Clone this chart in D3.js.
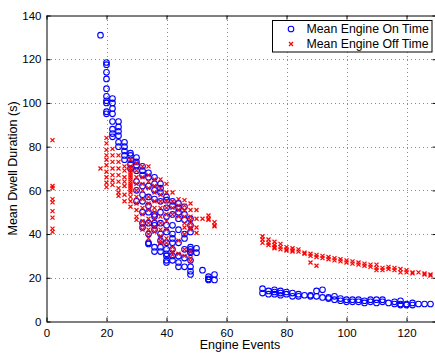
<!DOCTYPE html>
<html>
<head>
<meta charset="utf-8">
<script src="https://cdn.jsdelivr.net/npm/d3@7"></script>
<style>
  html, body { margin: 0; padding: 0; background: #fff; }
  svg { display: block; font-family: "Liberation Sans", Arial, Helvetica, sans-serif; }
</style>
</head>
<body>
<svg id="chart" width="435" height="356"></svg>
<script>
// ---- DATA ----
const xTicks = [0, 20, 40, 60, 80, 100, 120];
const yTicks = [0, 20, 40, 60, 80, 100, 120, 140];
const seriesNames = ["Mean Engine On Time", "Mean Engine Off Time"];

// Mean Engine On Time: engine events and the dwell values observed at each
const onEvents = [18, 20, 22, 24, 26, 28, 30, 32, 34, 36, 38, 40, 42, 44, 46, 48, 50, 52, 54, 56,
  72, 74, 76, 78, 80, 82, 84, 86, 88, 90, 92, 94, 96, 98, 100, 102, 104, 106, 108, 110, 112, 114, 116, 118, 120, 122, 124, 126, 128];
const onValues = [
  [131],
  [118.5, 117.5, 114, 111, 106.5, 103, 101, 100, 96, 95],
  [102, 100, 97.5, 95, 91.5, 88, 86, 84.5],
  [91.5, 89, 87, 85, 82, 80],
  [82, 80, 78, 76, 74],
  [77, 76, 74, 72, 70],
  [75, 73, 71.5, 69, 64, 60, 55],
  [71, 69, 67, 62, 58, 55, 50, 45, 43],
  [68, 66, 62, 57, 53, 50, 45, 40, 36, 35.5],
  [66, 63, 60, 56, 49, 48, 45, 44, 42, 34, 32],
  [63, 61, 59, 55, 50, 45, 40, 37, 34, 32],
  [57, 55.5, 52, 48, 44, 41, 36, 33, 31, 30, 28, 27],
  [55, 53, 49, 44, 40, 38, 36, 33, 30, 28],
  [54, 52, 50, 47, 42, 36, 30, 27, 25],
  [52.5, 49, 46.5, 40, 38, 33, 29, 25],
  [47, 44, 41, 34, 33, 32, 31.5, 28, 25, 23, 21.5],
  [33.5, 31.5],
  [23.5],
  [20.5, 19.5, 19],
  [21.5, 19],
  [15, 13],
  [14, 12.5],
  [14.5, 13.5, 12.5],
  [14, 13, 12],
  [13.5, 12.5],
  [13, 11.5],
  [12.5, 11.5],
  [12],
  [12, 11.5],
  [14, 11.5],
  [14.5, 11],
  [11, 10.5],
  [11.5, 10],
  [10.5, 9.5],
  [10, 9],
  [10, 9],
  [10, 9],
  [9.5, 8.5],
  [10, 9],
  [10, 8.5],
  [10, 9],
  [8.5],
  [9, 8],
  [9.5, 8, 7.5],
  [8, 7.5],
  [8.5, 7.5],
  [8],
  [8],
  [8]
];

// Mean Engine Off Time
const offEvents = [2, 18, 20, 22, 24, 26, 28, 30, 32, 34, 36, 38, 40, 42, 44, 46, 48, 50, 52, 54, 56,
  72, 74, 76, 78, 80, 82, 84, 86, 88, 90, 92, 94, 96, 98, 100, 102, 104, 106, 108, 110, 112, 114, 116, 118, 120, 122, 124, 126, 128];
const offValues = [
  [83, 62, 61, 56, 54.5, 50.5, 47.5, 42.5, 41],
  [70],
  [84, 81.5, 78.5, 76, 74, 71.5, 68.5, 66, 63.5, 61.5],
  [79, 76, 73, 70, 67, 64.5, 62.5],
  [76, 73, 70, 67, 64, 61, 59, 57.5],
  [71, 69, 66, 64, 62, 58, 55],
  [74, 71, 70, 69, 68, 67, 66, 65, 64, 63, 62, 61, 60, 59, 57, 55, 52.5],
  [72.5, 69, 66, 63, 60, 57, 54, 51, 48, 46.5],
  [71, 66, 63, 60, 56, 52, 49, 46, 44, 42],
  [71, 67, 64, 61, 57, 54, 51, 47, 45, 42, 40, 38],
  [65, 62, 59, 55, 52, 50, 47, 43, 41],
  [65, 61, 58, 55, 52, 48, 45, 42, 39, 37, 36],
  [63, 59, 55, 52, 49, 46, 42, 38, 36],
  [59, 55, 52, 49, 34, 32, 30.5],
  [56, 53, 51, 48, 37, 31],
  [55.5, 53, 51, 48, 45, 43, 40, 33, 30],
  [54, 51, 48, 46.5, 45, 43, 42, 32, 29, 27.5],
  [51, 47, 43, 40.5],
  [47],
  [48.5, 47, 46.5],
  [45.5, 44, 43.5],
  [39, 37.5, 36],
  [37.5, 36, 35],
  [36.5, 35, 34, 33.5],
  [35.5, 34, 33],
  [34, 33, 32.5],
  [33.5, 32.5, 32],
  [33, 32],
  [31.5, 31],
  [31, 30, 27],
  [30.5, 29.5, 25.5],
  [30, 29],
  [29.5, 28.5],
  [29, 28],
  [28.5, 27.5],
  [28, 27],
  [27.5, 26.5],
  [27, 26],
  [26.5, 25.5],
  [26, 25],
  [26, 24.5, 23.5],
  [24.5, 23.5],
  [25, 24],
  [24.5, 23.5],
  [24, 22.5],
  [23.5, 22.5],
  [22.5, 22],
  [22.5],
  [22, 21.5],
  [21.5, 21]
];

// ---- LAYOUT ----
const W = 435, H = 356;
const pL = 46.5, pR = 436.5, pT = 15.5, pB = 321.5;
const x = d3.scaleLinear().domain([0, 130]).range([pL, pR]);
const y = d3.scaleLinear().domain([0, 140]).range([pB, pT]);
const blue = "#0000ff", red = "#ff0000";

const svg = d3.select("#chart");
svg.append("rect").attr("width", W).attr("height", H).attr("fill", "#fff");

// grid
const grid = svg.append("g").attr("stroke", "#8c8c8c").attr("stroke-width", 1)
  .attr("stroke-dasharray", "1,3").attr("shape-rendering", "crispEdges");
xTicks.filter(t => t > 0).forEach(t => {
  grid.append("line").attr("x1", Math.round(x(t)) + 0.5).attr("x2", Math.round(x(t)) + 0.5)
    .attr("y1", pT).attr("y2", pB);
});
yTicks.filter(t => t > 0 && t < 140).forEach(t => {
  grid.append("line").attr("y1", Math.round(y(t)) + 0.5).attr("y2", Math.round(y(t)) + 0.5)
    .attr("x1", pL).attr("x2", pR);
});

// axes (MATLAB-style: inward ticks on all four sides)
const tickLen = 4;
const axB = svg.append("g").attr("transform", `translate(0,${pB})`)
  .call(d3.axisBottom(x).tickValues(xTicks).tickSizeInner(-tickLen).tickSizeOuter(0).tickPadding(7));
const axT = svg.append("g").attr("transform", `translate(0,${pT})`)
  .call(d3.axisTop(x).tickValues(xTicks).tickSizeInner(-tickLen).tickSizeOuter(0).tickFormat(""));
const axL = svg.append("g").attr("transform", `translate(${pL},0)`)
  .call(d3.axisLeft(y).tickValues(yTicks).tickSizeInner(-tickLen).tickSizeOuter(0).tickPadding(5));
const axR = svg.append("g").attr("transform", `translate(${pR},0)`)
  .call(d3.axisRight(y).tickValues(yTicks).tickSizeInner(-tickLen).tickSizeOuter(0).tickFormat(""));
[axB, axT, axL, axR].forEach(a => {
  a.select(".domain").attr("stroke", "#000").attr("stroke-width", 1);
  a.selectAll(".tick line").attr("stroke", "#000");
  a.selectAll("text").attr("font-size", 11.5).attr("fill", "#000")
    .attr("font-family", "'Liberation Sans', Arial, sans-serif");
});

// points
const onPts = [], offPts = [];
onEvents.forEach((e, i) => onValues[i].forEach(v => onPts.push([e, v])));
offEvents.forEach((e, i) => offValues[i].forEach(v => offPts.push([e, v])));

svg.append("g").selectAll("circle").data(onPts).join("circle")
  .attr("cx", d => x(d[0])).attr("cy", d => y(d[1])).attr("r", 2.8)
  .attr("fill", "none").attr("stroke", blue).attr("stroke-width", 1.1);

const xs = 2;
const xg = svg.append("g").attr("stroke", red).attr("stroke-width", 1.2);
xg.selectAll("path").data(offPts).join("path")
  .attr("d", d => {
    const cx = x(d[0]), cy = y(d[1]);
    return `M${cx - xs},${cy - xs}L${cx + xs},${cy + xs}M${cx - xs},${cy + xs}L${cx + xs},${cy - xs}`;
  });

// axis titles
svg.append("text").attr("x", 240).attr("y", 349).attr("text-anchor", "middle")
  .attr("font-size", 12.5).text("Engine Events");
svg.append("text").attr("transform", `translate(13,${(pT + pB) / 2}) rotate(-90)`)
  .attr("text-anchor", "middle").attr("dy", "0.35em").attr("font-size", 12.5).text("Mean Dwell Duration (s)");

// legend
const lg = svg.append("g");
lg.append("rect").attr("x", 272.5).attr("y", 20.5).attr("width", 159.5).attr("height", 31.5)
  .attr("fill", "#fff").attr("stroke", "#000").attr("stroke-width", 1);
const ly = [29, 44];
lg.append("circle").attr("cx", 291).attr("cy", ly[0]).attr("r", 2.8)
  .attr("fill", "none").attr("stroke", blue).attr("stroke-width", 1.1);
lg.append("path").attr("stroke", red).attr("stroke-width", 1.2)
  .attr("d", `M${291 - xs},${ly[1] - xs}L${291 + xs},${ly[1] + xs}M${291 - xs},${ly[1] + xs}L${291 + xs},${ly[1] - xs}`);
seriesNames.forEach((n, i) => {
  lg.append("text").attr("x", 306.5).attr("y", ly[i]).attr("dy", "0.35em")
    .attr("font-size", 12.3).text(n);
});
</script>
</body>
</html>
